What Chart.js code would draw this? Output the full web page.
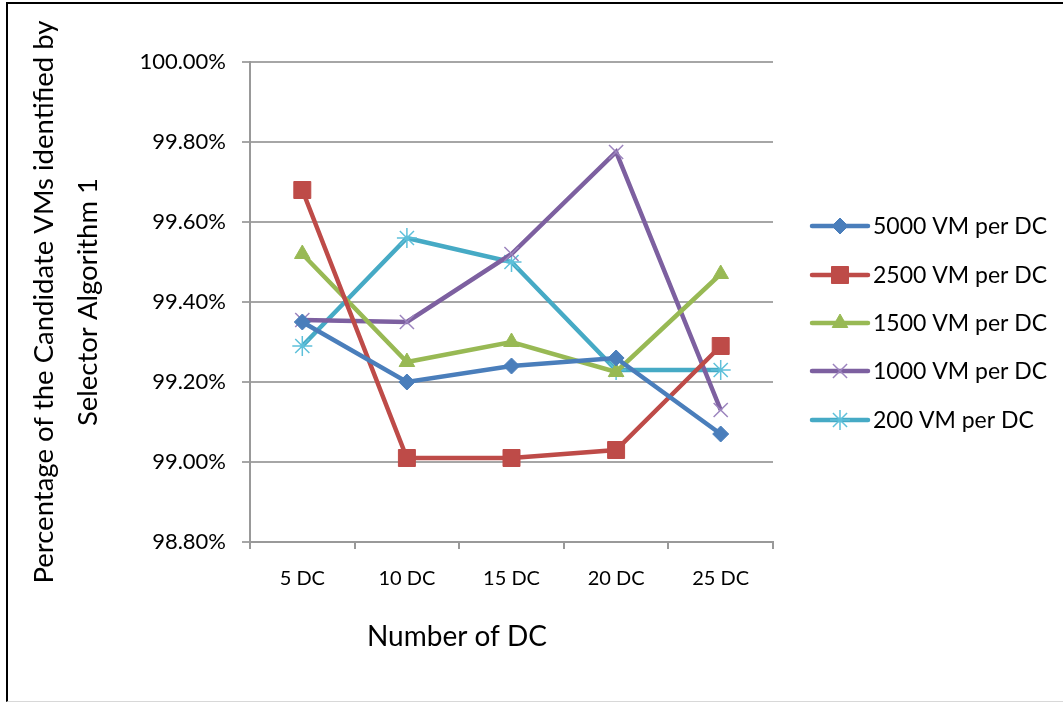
<!DOCTYPE html>
<html>
<head>
<meta charset="utf-8">
<script src="https://cdn.jsdelivr.net/npm/chart.js@4.4.1/dist/chart.umd.min.js"></script>
<style>
  html, body { margin: 0; padding: 0; background: #fff; }
  #wrap { position: relative; width: 1063px; height: 702px; overflow: hidden; }
  #frame { position: absolute; left: 6px; top: 2px; width: 1100px; height: 697px; border-left: 2px solid #000; border-top: 2px solid #000; border-bottom: 1px solid #d8d8d8; }
  canvas { position: absolute; left: 0; top: 0; }
</style>
</head>
<body>
<div id="wrap">
  <div id="frame"></div>
  <canvas id="c" width="1063" height="702"></canvas>
</div>
<script>
const categories = ["5 DC", "10 DC", "15 DC", "20 DC", "25 DC"];
const seriesNames = ["5000 VM per DC", "2500 VM per DC", "1500 VM per DC", "1000 VM per DC", "200 VM per DC"];
const vm5000 = [99.35, 99.20, 99.24, 99.26, 99.07];
const vm2500 = [99.68, 99.01, 99.01, 99.03, 99.29];
const vm1500 = [99.52, 99.25, 99.30, 99.225, 99.47];
const vm1000 = [99.355, 99.35, 99.52, 99.775, 99.13];
const vm200  = [99.29, 99.56, 99.50, 99.23, 99.23];
const yMin = 98.8, yMax = 100.0, yStep = 0.2;
const xTitle = "Number of DC";
const yTitle = ["Percentage of the Candidate VMs identified by", "Selector Algorithm 1"];

const FONT = "Lato, 'Liberation Sans', sans-serif";
const styles = [
  { color: "#4A7EBB", pointColor: "#4A7EBB", pointStyle: "rectRot", radius: 8, pbw: 1 },
  { color: "#BE4B48", pointColor: "#BE4B48", pointStyle: "rect", radius: 12, pbw: 1 },
  { color: "#98B954", pointColor: "#98B954", pointStyle: "triangle", radius: 9, pbw: 1 },
  { color: "#7D60A0", pointColor: "#9C84BE", pointStyle: "crossRot", radius: 10, pbw: 1.5 },
  { color: "#46AAC5", pointColor: "#5EC0DA", pointStyle: "star", radius: 10, pbw: 1.5 }
];
const values = [vm5000, vm2500, vm1500, vm1000, vm200];

const datasets = values.map((v, i) => ({
  label: seriesNames[i],
  data: v,
  borderColor: styles[i].color,
  backgroundColor: styles[i].pointColor,
  borderWidth: 4.5,
  pointStyle: styles[i].pointStyle,
  pointRadius: styles[i].radius,
  pointBorderColor: styles[i].pointColor,
  pointBackgroundColor: styles[i].pointColor,
  pointBorderWidth: styles[i].pbw,
  tension: 0,
  fill: false
}));

const legendPlugin = {
  id: 'customLegend',
  afterDraw(chart) {
    const ctx = chart.ctx;
    const x0 = 812, x1 = 868, textX = 873;
    const ys = [226, 275, 323, 371, 420];
    chart.data.datasets.forEach((ds, i) => {
      const y = ys[i];
      ctx.save();
      ctx.strokeStyle = ds.borderColor;
      ctx.lineWidth = 4.5;
      ctx.lineCap = 'round';
      ctx.beginPath(); ctx.moveTo(x0, y); ctx.lineTo(x1, y); ctx.stroke();
      ctx.restore();
      ctx.save();
      ctx.lineWidth = ds.pointBorderWidth;
      ctx.strokeStyle = ds.pointBorderColor;
      ctx.fillStyle = ds.pointBackgroundColor;
      Chart.helpers.drawPoint(ctx, { pointStyle: ds.pointStyle, radius: ds.pointRadius, borderWidth: ds.pointBorderWidth, rotation: 0 }, (x0 + x1) / 2, y);
      ctx.restore();
      ctx.save();
      ctx.fillStyle = '#000';
      ctx.font = "23px " + FONT;
      ctx.textBaseline = 'middle';
      ctx.fillText(ds.label, textX, y + 1);
      ctx.restore();
    });
    // x-axis title (placed as in the original, left of the plot centre)
    ctx.save();
    ctx.fillStyle = '#000';
    ctx.font = "28px " + FONT;
    ctx.textAlign = 'center';
    ctx.textBaseline = 'middle';
    ctx.fillText(xTitle, 457, 637);
    ctx.restore();
  }
};

new Chart(document.getElementById('c'), {
  type: 'line',
  data: { labels: categories, datasets },
  plugins: [legendPlugin],
  options: {
    responsive: false,
    animation: false,
    layout: { padding: { left: 8, top: 62, right: 290, bottom: 0 } },
    plugins: { legend: { display: false }, tooltip: { enabled: false } },
    scales: {
      x: {
        offset: true,
        grid: { offset: true, drawOnChartArea: false, drawTicks: true, tickLength: 7, color: '#999', lineWidth: 2 },
        border: { color: '#999', width: 2 },
        ticks: { color: '#000', font: { family: FONT, size: 20 }, padding: 18, maxRotation: 0 },
        title: { display: false, text: xTitle },
        afterFit(scale) { scale.height = 702 - 542; }
      },
      y: {
        min: yMin, max: yMax,
        grid: { color: '#A6A6A6', lineWidth: 2, tickLength: 8 },
        border: { color: '#999', width: 2 },
        ticks: {
          stepSize: yStep,
          color: '#000',
          font: { family: FONT, size: 22 },
          padding: 16,
          callback: v => v.toFixed(2) + '%'
        },
        title: { display: true, text: yTitle, color: '#000', font: { family: FONT, size: 27.5, lineHeight: 1.57 }, padding: { top: 15, bottom: 0 } },
        afterFit(scale) { scale.width = 250 - 8; }
      }
    }
  }
});
</script>
</body>
</html>
